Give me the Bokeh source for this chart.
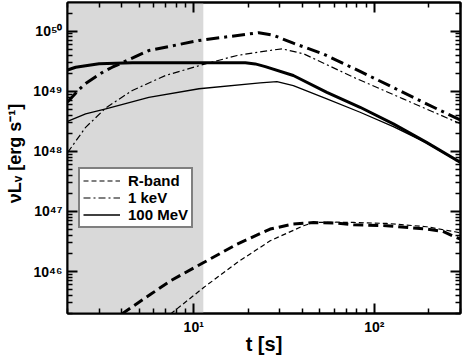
from bokeh.plotting import figure
from bokeh.models import (Range1d, LogAxis, FixedTicker, BoxAnnotation,
                          Legend, LegendItem, CustomJSTickFormatter)
from bokeh.embed import file_html
from bokeh.resources import INLINE

# ---------------- data ----------------
# 100 MeV, thick solid
t_mev_thick = [2.0, 2.22, 2.99, 4.57, 10.7, 19.3, 21.9, 24.9, 35.6, 54.6, 83.4, 127.4, 194.5, 300]
L_mev_thick = [2.26e49, 2.51e49, 2.86e49, 2.97e49, 2.99e49, 2.97e49, 2.85e49, 2.57e49,
               1.83e49, 9.6e48, 5.41e48, 2.86e48, 1.41e48, 6.56e47]
# 100 MeV, thin solid
t_mev_thin = [2.0, 2.52, 3.26, 5.64, 10.7, 23.3, 28.9, 35.6, 54.6, 83.4, 127.4, 194.5, 300]
L_mev_thin = [3.16e48, 4.2e48, 5.09e48, 7.94e48, 1.10e49, 1.38e49, 1.45e49, 1.24e49,
              7.46e48, 4.47e48, 2.58e48, 1.38e48, 6.46e47]
# 1 keV, thick dash-dot
t_kev_thick = [2.0, 2.32, 2.52, 3.18, 3.54, 5.64, 10.7, 22.9, 27.7, 35.6, 52.2, 83.4, 127.4, 194.5, 300]
L_kev_thick = [6.6e48, 1.07e49, 1.35e49, 2.14e49, 2.51e49, 4.76e49, 7.0e49, 9.44e49, 8.51e49,
               6.31e49, 4.17e49, 2.14e49, 1.15e49, 6.17e48, 3.31e48]
# 1 keV, thin dash-dot
t_kev_thin = [2.0, 2.52, 3.26, 4.57, 6.98, 11.6, 17.4, 24.9, 30.8, 40.6, 76.6, 144.5, 272.9, 300]
L_kev_thin = [9.5e47, 2.51e48, 5.28e48, 1.03e49, 1.83e49, 2.86e49, 3.94e49, 4.65e49, 5.09e49,
              4.2e49, 1.71e49, 7.46e48, 3.25e48, 2.88e48]
# R-band, thick dashed
t_r_thick = [4.0, 5.77, 7.43, 11.35, 17.4, 26.5, 35.5, 46.0, 61.9, 76.6, 117, 194.5, 240, 279, 300]
L_r_thick = [1.97e45, 4.17e45, 7.0e45, 1.41e46, 2.86e46, 5.09e46, 6.17e46, 6.53e46, 6.38e46,
             6.0e46, 5.78e46, 5.09e46, 4.65e46, 3.78e46, 3.47e46]
# R-band, thin dashed
t_r_thin = [7.45, 11.35, 17.4, 26.5, 40.6, 46.0, 61.9, 76.6, 117, 194.5, 279, 300]
L_r_thin = [1.97e45, 5.41e45, 1.41e46, 3.25e46, 5.78e46, 6.56e46, 6.61e46, 6.56e46,
            6.31e46, 5.56e46, 4.59e46, 4.37e46]

legend_labels = ["R-band", "1 keV", "100 MeV"]
shade_end = 11.3

x_lo, x_hi = 2.0, 300.0
y_lo, y_hi = 2.0e45, 3.0e50

x_major = [10, 100]
x_tick_labels = ["10\u00b9", "10\u00b2"]
y_major = [1e46, 1e47, 1e48, 1e49, 1e50]
y_tick_labels = ["10\u2074\u2076", "10\u2074\u2077", "10\u2074\u2078", "10\u2074\u2079", "10\u2075\u2070"]

x_title = "t [s]"
y_title = "\u2002\u03bdL\u1d65 [erg s\u207b\u00b9]"

x_minor = [m * d for d in (1, 10, 100) for m in range(2, 10)]
y_minor = [m * d for d in (1e45, 1e46, 1e47, 1e48, 1e49, 1e50) for m in range(2, 10)]

FONT = "Liberation Sans"

# ---------------- figure ----------------
p = figure(width=463, height=358, x_axis_type="log", y_axis_type="log", title=None,
           x_range=Range1d(x_lo, x_hi), y_range=Range1d(y_lo, y_hi),
           output_backend="svg", toolbar_location=None,
           min_border_left=67, min_border_right=3, min_border_top=2, min_border_bottom=45)
p.xgrid.visible = False
p.ygrid.visible = False
p.outline_line_color = "black"
p.outline_line_width = 2
p.background_fill_color = "white"
p.border_fill_color = "white"

p.add_layout(LogAxis(), "above")
p.add_layout(LogAxis(), "right")

lookup_code = """
const i = vals.findIndex((v) => Math.abs(Math.log10(v) - Math.log10(tick)) < 1e-6);
return i >= 0 ? labs[i] : '';
"""
blank = CustomJSTickFormatter(code="return ''")

for ax in p.xaxis:
    ax.ticker = FixedTicker(ticks=x_major, minor_ticks=x_minor)
for ax in p.yaxis:
    ax.ticker = FixedTicker(ticks=y_major, minor_ticks=y_minor)
for ax in list(p.xaxis) + list(p.yaxis):
    ax.formatter = blank
    ax.major_tick_in = 10
    ax.major_tick_out = 0
    ax.minor_tick_in = 5
    ax.minor_tick_out = 0
    ax.major_tick_line_width = 2
    ax.minor_tick_line_width = 1.5
    ax.major_tick_line_color = "black"
    ax.minor_tick_line_color = "black"
    ax.axis_line_width = 2
    ax.axis_line_color = "black"
    ax.major_label_standoff = 0
    ax.axis_label_standoff = 0
    ax.major_label_text_font = FONT
    ax.major_label_text_font_style = "bold"
    ax.major_label_text_font_size = "1px"
    ax.major_label_text_color = "black"
    ax.axis_label_text_font = FONT
    ax.axis_label_text_font_style = "bold"
    ax.axis_label_text_font_size = "20px"
    ax.axis_label_text_color = "black"

bx = p.below[0]
bx.formatter = CustomJSTickFormatter(args=dict(vals=x_major, labs=x_tick_labels), code=lookup_code)
bx.major_label_text_font_size = "14px"
bx.major_label_standoff = 5
bx.axis_label = x_title
bx.axis_label_standoff = -5

ly = p.left[0]
ly.formatter = CustomJSTickFormatter(args=dict(vals=y_major, labs=y_tick_labels), code=lookup_code)
ly.major_label_text_font_size = "14px"
ly.major_label_standoff = 5
ly.axis_label = y_title
ly.axis_label_text_font_size = "18px"
ly.axis_label_standoff = 5

p.add_layout(BoxAnnotation(right=shade_end, fill_color="#d9d9d9", fill_alpha=1.0,
                           line_color=None, level="underlay"))

# ---------------- curves ----------------
r_mev_thick = p.line(t_mev_thick, L_mev_thick, line_color="black", line_width=3, line_join="round")
r_mev_thin = p.line(t_mev_thin, L_mev_thin, line_color="black", line_width=1.3, line_join="round")
r_kev_thick = p.line(t_kev_thick, L_kev_thick, line_color="black", line_width=3,
                     line_dash="13 5 3 5", line_join="round")
r_kev_thin = p.line(t_kev_thin, L_kev_thin, line_color="black", line_width=1.2,
                    line_dash="7 3 2 3", line_join="round")
r_r_thick = p.line(t_r_thick, L_r_thick, line_color="black", line_width=3,
                   line_dash="10 5", line_join="round")
r_r_thin = p.line(t_r_thin, L_r_thin, line_color="black", line_width=1.2,
                  line_dash="5 3", line_join="round")

legend = Legend(items=[LegendItem(label=legend_labels[0], renderers=[r_r_thin]),
                       LegendItem(label=legend_labels[1], renderers=[r_kev_thin]),
                       LegendItem(label=legend_labels[2], renderers=[r_mev_thin])],
                location=(11, 85), margin=0, padding=3, spacing=0,
                glyph_width=37, glyph_height=15, label_height=15, label_standoff=8,
                label_text_font=FONT, label_text_font_style="bold", label_text_font_size="15px",
                label_text_color="black",
                border_line_color="black", border_line_width=2,
                background_fill_color="white", background_fill_alpha=1.0)
p.add_layout(legend, "center")

open("out.html", "w").write(file_html(p, INLINE))
